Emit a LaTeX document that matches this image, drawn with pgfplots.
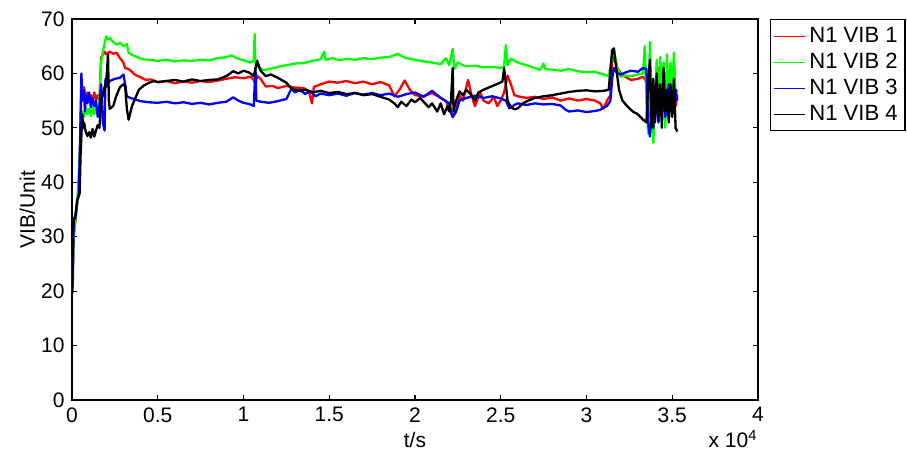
\documentclass[border=0pt]{standalone}
\usepackage{fontspec}
\setmainfont{Liberation Sans}
\usepackage{pgfplots}
\pgfplotsset{compat=1.18}
\begin{document}
\begin{tikzpicture}
\begin{axis}[
  at={(0,0)}, anchor=south west,
  width=326.5pt, height=181.4pt, scale only axis,
  xmin=0, xmax=4, ymin=0, ymax=70,
  xtick={0,0.5,...,4}, ytick={0,10,...,70},
  xticklabels={0,0.5,1,1.5,2,2.5,3,3.5,4},
  tick align=inside, major tick length=2.4pt,
  tick style={black, line width=0.6pt},
  axis line style={line width=0.7pt},
  /pgf/number format/assume math mode=true,
  ticklabel style={font=\fontsize{10}{12}\selectfont},
  xlabel={t/s}, ylabel={VIB/Unit},
  label style={font=\fontsize{10}{12}\selectfont},
  xlabel style={yshift=2pt},
  ylabel style={yshift=-4pt},
  legend style={at={(1.0175,1)}, anchor=north west, draw=black, line width=0.6pt,
    font=\fontsize{10.5}{12}\selectfont, inner sep=1.5pt, row sep=-0.4pt},
  legend cell align=left,
  legend image code/.code={\draw[#1, line width=0.5pt] (0pt,0pt) -- (14.5pt,0pt);},
  every axis plot/.append style={line width=1.1pt, line join=round},
  clip=true,
]
\addplot[red] coordinates {
(0,19.5)(0.01,30)(0.02,33)(0.03,36)(0.04,38)(0.05,50)(0.055,59)(0.06,56)(0.07,57.5)(0.08,55)(0.09,56.5)(0.10,55.5)(0.11,56)(0.12,55)(0.13,56.5)(0.14,55.2)(0.15,56)(0.16,55)(0.17,63)(0.18,63.5)(0.19,64)(0.20,63.5)(0.22,64)(0.24,63.6)(0.26,63.8)(0.28,62.8)(0.30,62)(0.31,61)(0.33,60.8)(0.35,60.3)(0.37,59.7)(0.40,59.3)(0.43,58.8)(0.46,58.9)(0.5,58.4)(0.55,58.6)(0.6,58.2)(0.65,58.5)(0.7,58.3)(0.75,58.6)(0.8,58.4)(0.85,58.7)(0.9,59)(0.95,59.3)(1.0,59.1)(1.04,59.4)(1.06,58.8)(1.07,58)(1.08,59.5)(1.1,59)(1.13,57.6)(1.17,57.7)(1.2,57.3)(1.25,57.7)(1.3,57.4)(1.35,57.3)(1.38,56.8)(1.40,54.5)(1.41,57.5)(1.45,58)(1.5,58.5)(1.55,58.3)(1.6,58.6)(1.65,58.2)(1.7,58.5)(1.75,58)(1.8,58.4)(1.85,57.8)(1.88,55.8)(1.91,57)(1.94,58.7)(1.97,57)(2.0,56)(2.05,55.8)(2.1,56.4)(2.15,55.5)(2.18,55)(2.2,53.5)(2.22,52)(2.24,53)(2.26,56)(2.28,55)(2.31,58.8)(2.33,56)(2.35,54)(2.38,56.5)(2.4,55)(2.43,54.5)(2.46,55.7)(2.48,54)(2.5,55)(2.52,56.5)(2.54,59.6)(2.56,58)(2.58,56)(2.6,55.8)(2.65,55.5)(2.7,55.7)(2.75,55.3)(2.8,55.6)(2.85,55)(2.9,55.4)(2.95,55)(3.0,55.3)(3.05,55)(3.08,54.5)(3.1,53.5)(3.12,55)(3.14,56)(3.15,62)(3.16,63.5)(3.18,61)(3.2,60)(3.23,59.3)(3.26,58.8)(3.3,59)(3.33,59.4)(3.35,58.5)(3.37,52)(3.38,57)(3.4,54)(3.42,61)(3.44,55)(3.46,58)(3.48,53)(3.5,60)(3.52,54)(3.53,56)
};
\addlegendentry{N1 VIB 1}
\addplot[color={rgb,1:red,0;green,1;blue,0}] coordinates {
(0,19.5)(0.01,30)(0.03,36)(0.05,48)(0.06,53)(0.07,52)(0.08,54)(0.09,52.5)(0.10,53.5)(0.11,52.2)(0.12,53.8)(0.13,52.5)(0.14,54)(0.15,53)(0.16,55)(0.17,62)(0.18,64)(0.19,65.5)(0.20,66.8)(0.21,66.2)(0.22,66.5)(0.24,65.8)(0.26,65.3)(0.28,65.6)(0.30,65)(0.32,65.4)(0.33,63.8)(0.35,63.4)(0.38,63)(0.41,62.6)(0.45,62.5)(0.5,62.3)(0.55,62.5)(0.6,62.2)(0.65,62.4)(0.7,62.3)(0.75,62.5)(0.8,62.4)(0.85,62.8)(0.9,63)(0.93,63.3)(0.96,62.8)(1.0,62.4)(1.04,62)(1.06,62.3)(1.065,67.2)(1.07,62)(1.09,61)(1.12,60.6)(1.15,60.8)(1.2,61.2)(1.25,61.5)(1.3,61.8)(1.35,61.9)(1.4,62.3)(1.45,62.6)(1.47,64)(1.48,62.5)(1.52,62.8)(1.56,62.4)(1.6,62.7)(1.65,62.5)(1.7,62.8)(1.75,62.6)(1.8,62.9)(1.85,63)(1.9,63.6)(1.92,63.2)(1.95,62.8)(2.0,62.5)(2.05,62.2)(2.1,62.0)(2.15,61.7)(2.18,62.8)(2.2,61.5)(2.22,64.5)(2.23,60.8)(2.25,62)(2.28,61.5)(2.3,61.3)(2.35,61.4)(2.4,61.1)(2.45,61.2)(2.5,61)(2.52,61.3)(2.53,65.2)(2.54,61.5)(2.56,62.7)(2.6,62)(2.65,61.5)(2.7,61)(2.73,60.6)(2.75,61.8)(2.76,60.8)(2.8,60.7)(2.85,60.5)(2.9,60.8)(2.95,60.4)(3.0,60.2)(3.05,60.3)(3.1,59.8)(3.13,59.5)(3.15,63)(3.16,64.3)(3.18,61)(3.2,59.4)(3.23,59.6)(3.26,59.5)(3.3,59.8)(3.33,60)(3.34,65)(3.35,55)(3.36,49)(3.37,65.8)(3.38,55)(3.39,47.2)(3.4,55)(3.41,62.5)(3.42,52)(3.43,63)(3.44,56)(3.45,62)(3.46,50)(3.47,63.5)(3.48,54)(3.49,62)(3.5,55)(3.51,63.8)(3.52,56)(3.53,57)
};
\addlegendentry{N1 VIB 2}
\addplot[blue] coordinates {
(0,19.5)(0.005,22)(0.01,33)(0.02,33.5)(0.03,36.5)(0.04,38)(0.05,52)(0.055,60)(0.06,55)(0.07,57)(0.075,53)(0.08,56)(0.09,54.5)(0.10,56.5)(0.11,53.8)(0.12,55.5)(0.13,54)(0.14,55)(0.15,52)(0.16,54)(0.17,58)(0.18,51)(0.19,49.5)(0.195,59)(0.20,57.5)(0.22,58.6)(0.25,59)(0.28,59.2)(0.30,59.8)(0.31,58)(0.32,55.8)(0.34,55.5)(0.37,55.2)(0.4,54.9)(0.45,54.7)(0.5,54.6)(0.55,54.8)(0.6,54.5)(0.65,54.7)(0.7,54.4)(0.75,54.6)(0.8,54.3)(0.85,54.6)(0.9,54.8)(0.94,55.6)(0.97,55)(1.0,54.6)(1.03,54.4)(1.05,54.2)(1.06,54)(1.07,61)(1.075,55)(1.1,54.8)(1.15,54.6)(1.2,54.9)(1.25,55.3)(1.28,57.2)(1.3,56.5)(1.33,57)(1.36,56.2)(1.39,56.8)(1.42,55.8)(1.45,56.3)(1.5,56)(1.55,56.3)(1.6,55.9)(1.65,56.4)(1.7,56.1)(1.75,56.4)(1.8,56)(1.85,56.3)(1.9,55.7)(1.95,56.2)(2.0,56.5)(2.05,55.7)(2.1,56.8)(2.15,55.5)(2.2,54.5)(2.22,52)(2.24,53)(2.26,55)(2.3,55.5)(2.35,55.9)(2.4,55.5)(2.45,55.8)(2.5,55.4)(2.53,55)(2.55,53.6)(2.58,54.2)(2.6,54.5)(2.65,54.2)(2.7,54.5)(2.75,54.3)(2.8,54.4)(2.85,54.1)(2.88,53.3)(2.9,53)(2.95,53.2)(3.0,52.9)(3.05,53.1)(3.08,53.3)(3.1,53.8)(3.12,54)(3.14,55)(3.15,59)(3.16,61)(3.18,60)(3.2,59.8)(3.23,60.2)(3.26,60.5)(3.3,60.3)(3.33,61)(3.35,60.8)(3.36,51)(3.37,48.4)(3.38,52)(3.39,50)(3.4,56)(3.42,51)(3.44,57)(3.46,52)(3.48,58)(3.5,53)(3.52,57)(3.53,55)
};
\addlegendentry{N1 VIB 3}
\addplot[black] coordinates {
(0,19.5)(0.005,30)(0.01,33)(0.02,34)(0.03,36.7)(0.04,37.5)(0.045,38)(0.05,45)(0.06,52.5)(0.065,50)(0.07,51)(0.08,49.3)(0.09,48.5)(0.10,49.2)(0.11,48.2)(0.12,49.8)(0.13,48.4)(0.14,49.5)(0.15,50.5)(0.16,50)(0.17,55)(0.18,56)(0.19,57.5)(0.20,58.5)(0.21,63.5)(0.215,55)(0.22,53.5)(0.24,54)(0.26,56)(0.28,57.5)(0.30,58)(0.31,57.6)(0.32,53.5)(0.33,51.5)(0.35,54)(0.37,55.5)(0.39,57)(0.42,57.8)(0.45,58.3)(0.48,58.6)(0.5,58.4)(0.55,58.6)(0.6,58.8)(0.65,58.5)(0.7,58.9)(0.75,58.6)(0.8,58.8)(0.85,58.9)(0.9,59.5)(0.94,60.4)(0.97,60)(1.0,60.5)(1.03,60.2)(1.05,59.8)(1.06,59.5)(1.08,62.3)(1.1,60.5)(1.13,59.5)(1.16,59.8)(1.2,59.2)(1.25,58.3)(1.28,57.2)(1.32,56.8)(1.36,57)(1.4,56.5)(1.45,56.8)(1.5,56.4)(1.55,56.6)(1.6,56.2)(1.65,56.4)(1.7,56)(1.75,56.2)(1.8,55.7)(1.85,55.2)(1.88,54.5)(1.9,53.8)(1.92,54.8)(1.95,54)(1.98,55.2)(2.0,54.7)(2.03,55.5)(2.05,54.8)(2.08,53.8)(2.1,54.5)(2.13,53)(2.15,54.5)(2.17,52.5)(2.19,54)(2.2,53)(2.21,55)(2.22,61)(2.225,53)(2.24,55)(2.26,56.7)(2.28,56)(2.3,57)(2.33,56)(2.35,55)(2.37,56.5)(2.4,57)(2.43,57.4)(2.46,57.8)(2.49,58.2)(2.51,58.5)(2.52,61)(2.53,58)(2.54,55)(2.56,53.8)(2.58,53.4)(2.6,53.6)(2.63,54.5)(2.66,55)(2.7,55.5)(2.75,55.8)(2.8,56)(2.85,56.3)(2.9,56.6)(2.95,56.8)(3.0,56.9)(3.05,56.7)(3.1,56.8)(3.13,57)(3.15,64.3)(3.16,64.6)(3.17,62)(3.19,57)(3.21,55)(3.24,53.9)(3.27,53)(3.3,52.5)(3.33,51.5)(3.35,51)(3.36,58)(3.37,62.5)(3.38,50)(3.39,59)(3.4,51)(3.41,60)(3.42,52)(3.43,58)(3.44,50)(3.45,61)(3.46,53)(3.47,57)(3.48,51)(3.49,58)(3.5,52)(3.51,59)(3.52,50)(3.53,49.3)
};
\addlegendentry{N1 VIB 4}
\end{axis}
\node[anchor=north east, font=\fontsize{10}{12}\selectfont, inner sep=0pt] at (326.5pt,-14pt) {x 10\textsuperscript{4}};
\useasboundingbox (-34.27pt,-26.18pt) rectangle (397.46pt,190.43pt);
\end{tikzpicture}
\end{document}
